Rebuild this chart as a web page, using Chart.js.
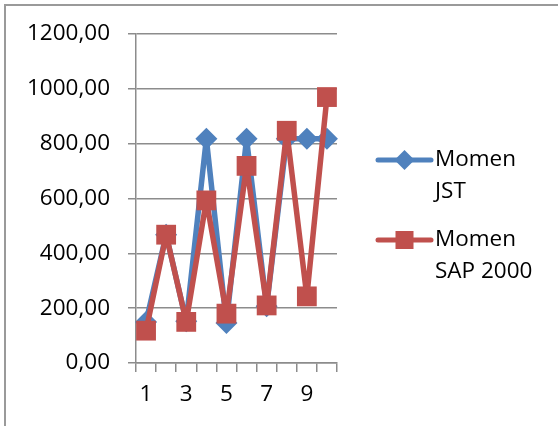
<!DOCTYPE html>
<html>
<head>
<meta charset="utf-8">
<script src="https://cdn.jsdelivr.net/npm/chart.js@4/dist/chart.umd.min.js"></script>
<style>
  html, body { margin: 0; padding: 0; background: #fff; }
  #wrap { position: relative; width: 558px; height: 426px; }
</style>
</head>
<body>
<div id="wrap"><canvas id="c" width="558" height="426"></canvas></div>
<script>
const categories = ['1', '2', '3', '4', '5', '6', '7', '8', '9', '10'];
const momenJST = [150, 468, 152, 818, 146, 818, 207, 818, 818, 818];
const momenSAP = [118, 468, 150, 593, 180, 719, 210, 847, 243, 970];
const yTicks = [0, 200, 400, 600, 800, 1000, 1200];
const seriesNames = [['Momen', 'JST'], ['Momen', 'SAP 2000']];

const FONT = '"Open Sans", "Liberation Sans", sans-serif';
const FONT_SIZE = 22.5;
const BLUE = '#4F81BD';
const RED = '#C0504D';
const GRID = '#8c8c8c';

// outer frame (top and left edges) plus white background
const framePlugin = {
  id: 'frame',
  beforeDraw(chart) {
    const ctx = chart.ctx;
    ctx.save();
    ctx.fillStyle = '#fff';
    ctx.fillRect(0, 0, chart.width, chart.height);
    ctx.strokeStyle = '#9a9a9a';
    ctx.lineWidth = 2;
    ctx.beginPath();
    ctx.moveTo(5, chart.height);
    ctx.lineTo(5, 5);
    ctx.lineTo(chart.width, 5);
    ctx.stroke();
    ctx.restore();
  }
};

// legend on the right with two-line entries
const legendPlugin = {
  id: 'sideLegend',
  afterDraw(chart) {
    const ctx = chart.ctx;
    const rows = [160, 240];
    ctx.save();
    chart.data.datasets.forEach((ds, i) => {
      const y = rows[i];
      ctx.strokeStyle = ds.borderColor;
      ctx.lineWidth = 5;
      ctx.lineCap = 'round';
      ctx.beginPath();
      ctx.moveTo(378, y);
      ctx.lineTo(431, y);
      ctx.stroke();
      ctx.fillStyle = ds.pointBackgroundColor;
      if (ds.pointStyle === 'rectRot') {
        const r = 10;
        ctx.beginPath();
        ctx.moveTo(404.5, y - r);
        ctx.lineTo(404.5 + r, y);
        ctx.lineTo(404.5, y + r);
        ctx.lineTo(404.5 - r, y);
        ctx.closePath();
        ctx.fill();
      } else {
        ctx.fillRect(404.5 - 9, y - 9, 18, 18);
      }
      ctx.fillStyle = '#000';
      ctx.font = FONT_SIZE + 'px ' + FONT;
      ctx.textBaseline = 'middle';
      ctx.textAlign = 'left';
      seriesNames[i].forEach((line, k) => {
        ctx.fillText(line, 435, y + k * 32);
      });
    });
    ctx.restore();
  }
};

new Chart(document.getElementById('c'), {
  type: 'line',
  data: {
    labels: categories,
    datasets: [
      {
        label: seriesNames[0].join(' '),
        data: momenJST,
        borderColor: BLUE,
        backgroundColor: BLUE,
        pointBackgroundColor: BLUE,
        pointBorderColor: BLUE,
        pointStyle: 'rectRot',
        pointRadius: 11,
        pointBorderWidth: 0,
        borderWidth: 5.5,
        borderJoinStyle: 'round',
        borderCapStyle: 'round',
        tension: 0,
        order: 1
      },
      {
        label: seriesNames[1].join(' '),
        data: momenSAP,
        borderColor: RED,
        backgroundColor: RED,
        pointBackgroundColor: RED,
        pointBorderColor: RED,
        pointStyle: 'rect',
        pointRadius: 14,
        pointBorderWidth: 0,
        borderWidth: 5.5,
        borderJoinStyle: 'round',
        borderCapStyle: 'round',
        tension: 0,
        order: 0
      }
    ]
  },
  options: {
    responsive: false,
    animation: false,
    layout: { padding: { left: 0, right: 221, top: 34, bottom: 0 } },
    plugins: {
      legend: { display: false },
      tooltip: { enabled: false }
    },
    scales: {
      x: {
        type: 'category',
        offset: true,
        grid: {
          offset: true,
          drawOnChartArea: false,
          drawTicks: true,
          tickLength: 9,
          color: GRID,
          lineWidth: 1.5
        },
        border: { color: GRID, width: 1.5 },
        ticks: {
          font: { family: FONT, size: FONT_SIZE },
          color: '#000',
          padding: 9,
          autoSkip: false,
          maxRotation: 0,
          callback: (v, i) => (i % 2 === 0 ? categories[i] : '')
        },
        afterFit: s => { s.height = 426 - 363; }
      },
      y: {
        min: 0,
        max: 1200,
        afterBuildTicks: s => { s.ticks = yTicks.map(v => ({ value: v })); },
        grid: {
          color: GRID,
          lineWidth: 1.5,
          drawTicks: true,
          tickLength: 8
        },
        border: { color: GRID, width: 1.5 },
        ticks: {
          font: { family: FONT, size: FONT_SIZE },
          color: '#000',
          padding: 18,
          callback: v => v.toFixed(2).replace('.', ',')
        },
        afterFit: s => { s.width = 136; }
      }
    }
  },
  plugins: [framePlugin, legendPlugin]
});
</script>
</body>
</html>
